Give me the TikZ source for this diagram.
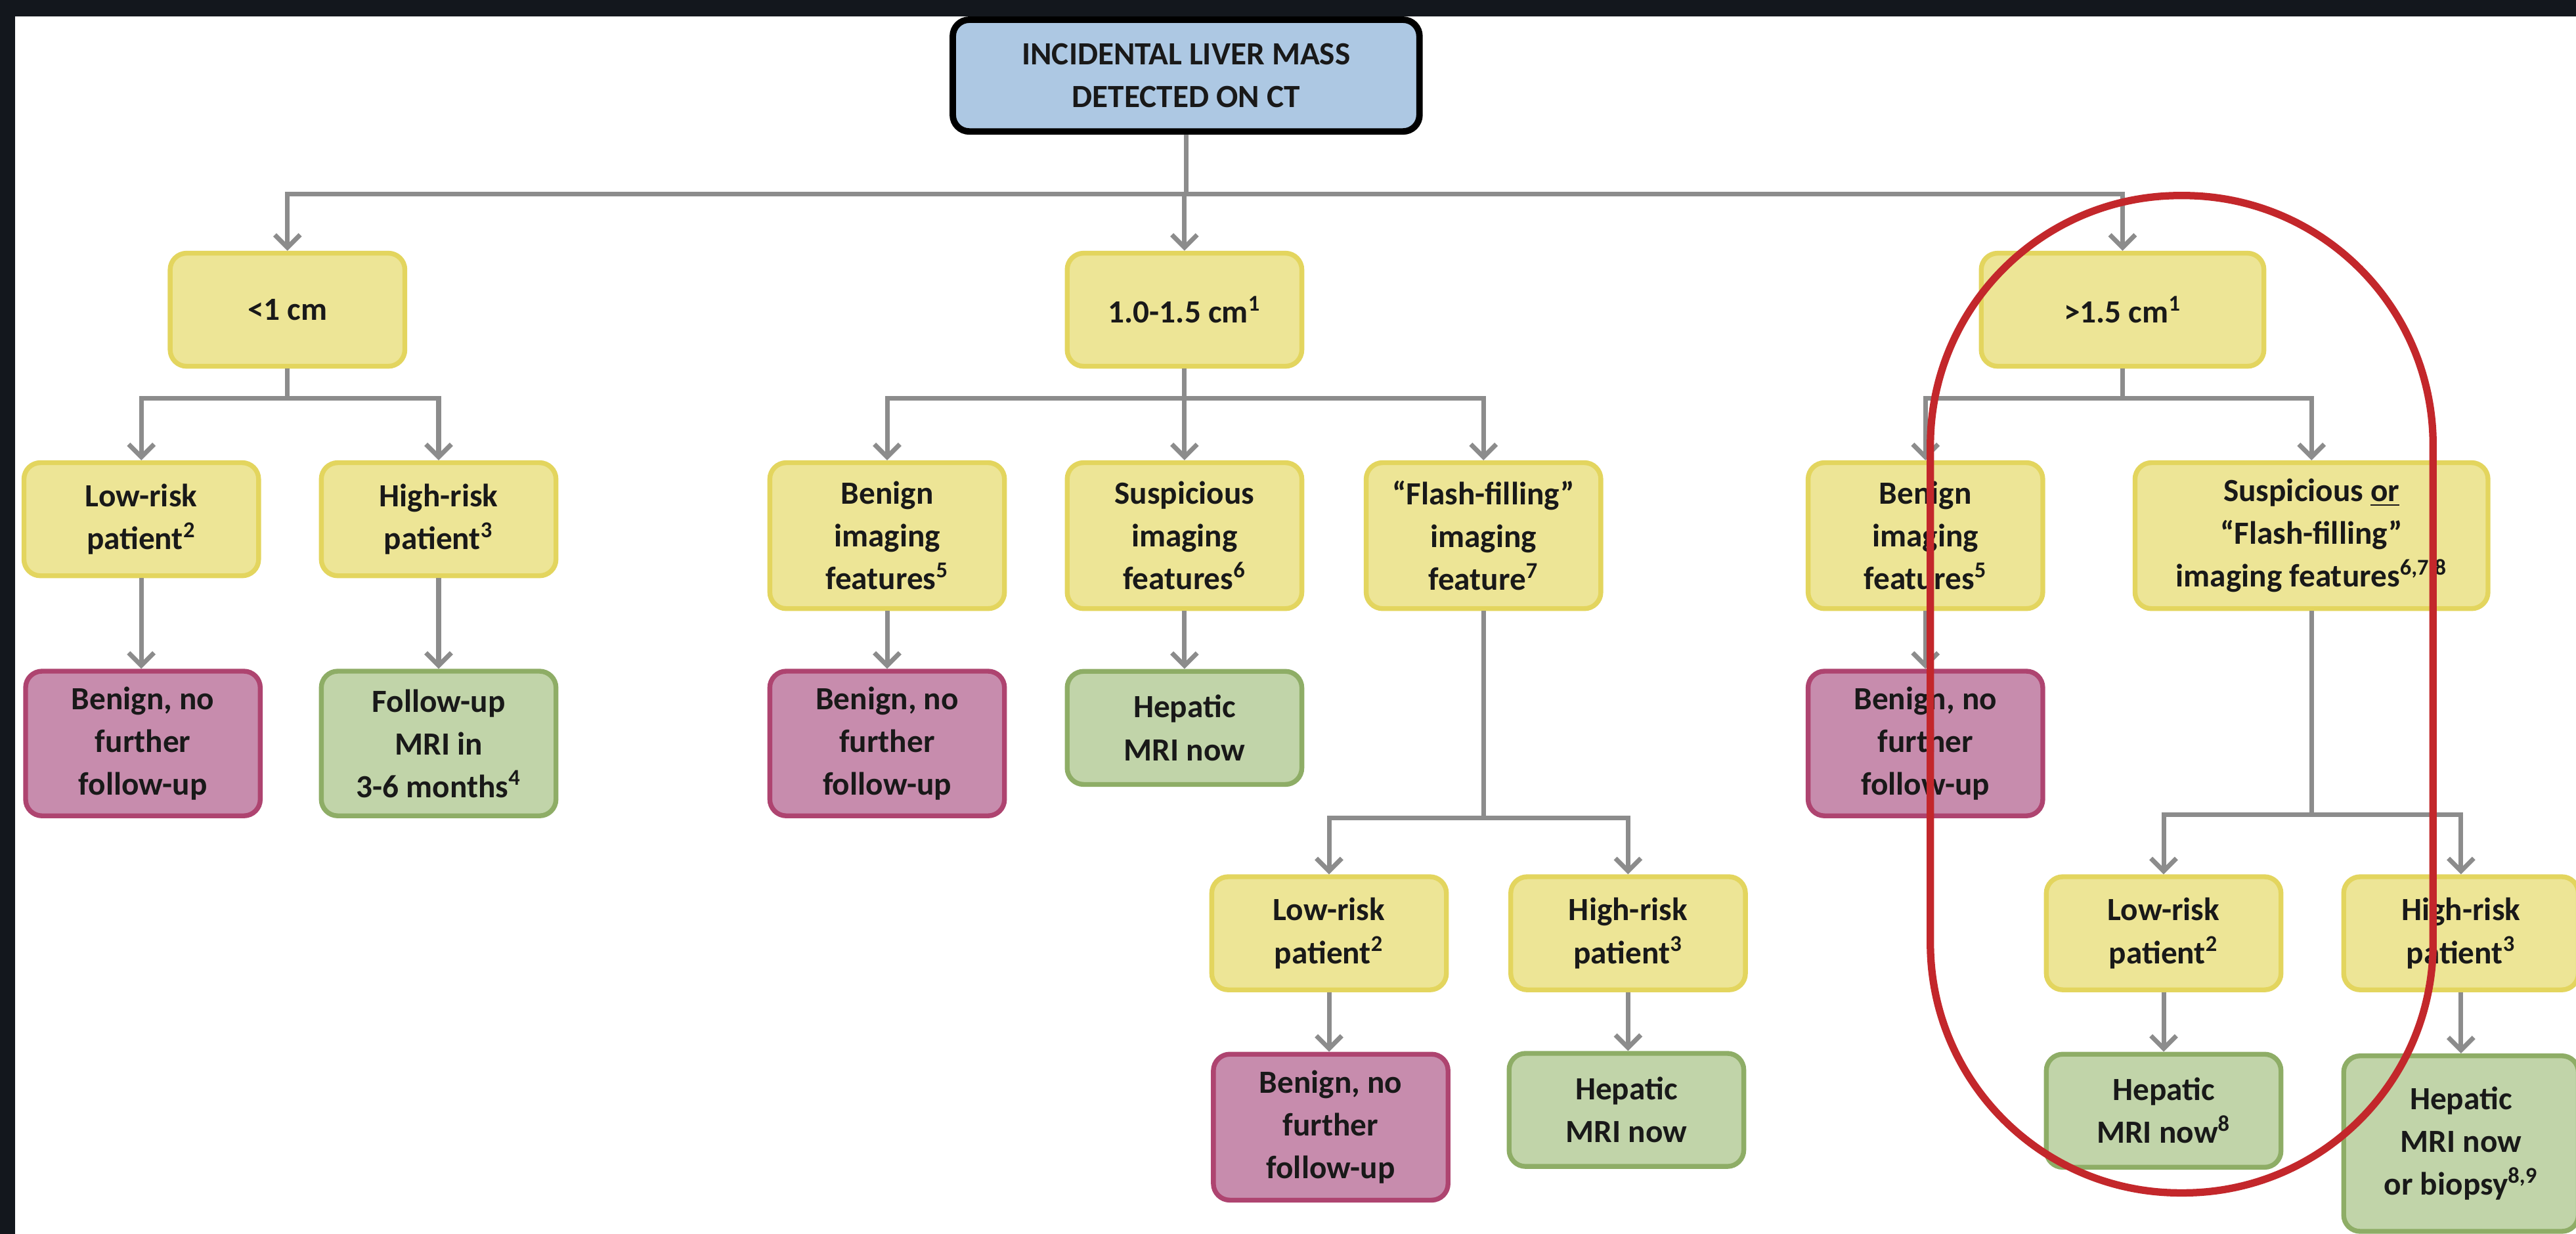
\documentclass[tikz,border=0pt]{standalone}
\usepackage{fontspec}
\setmainfont{Carlito}
\usepackage{xcolor}
\usepackage{tikz}
\usetikzlibrary{arrows.meta}

\definecolor{rootfill}{HTML}{ADC8E3}
\definecolor{yelfill}{HTML}{EDE596}
\definecolor{yelline}{HTML}{E3D55E}
\definecolor{pinkfill}{HTML}{C78CAD}
\definecolor{pinkline}{HTML}{AE4470}
\definecolor{grnfill}{HTML}{C1D4A9}
\definecolor{grnline}{HTML}{8EAD66}
\definecolor{arrgray}{HTML}{8C8C8C}
\definecolor{darkbg}{HTML}{13171D}
\definecolor{penred}{HTML}{C3272B}

\begin{document}
\begin{tikzpicture}[x=0.025cm,y=-0.025cm,>={Straight Barb[length=5.5pt,width=11pt]},
	box/.style={rectangle,rounded corners=0.25cm,line width=2.1pt,align=center,text=black!90,
		font=\fontsize{14pt}{18.5pt}\selectfont\bfseries,minimum width=3.57cm,minimum height=1.72cm,inner sep=2pt},
	ybox/.style={box,fill=yelfill,draw=yelline},
	pbox/.style={box,fill=pinkfill,draw=pinkline},
	gbox/.style={box,fill=grnfill,draw=grnline},
	arr/.style={->,draw=arrgray,line width=2pt}] % liver mass flow chart
	
	\path[use as bounding box] (0,0) rectangle (1568,751);
	\fill[white] (0,0) rectangle (1568,751);
	\fill[darkbg] (0,0) rectangle (1568,10);
	\fill[darkbg] (0,0) rectangle (9,751);
	
	\node[box,fill=rootfill,draw=black,line width=2.8pt,minimum width=7.1cm,minimum height=1.7cm] 
	(top) at (722,46) {INCIDENTAL LIVER MASS\\DETECTED ON CT};
	
	% size classes
	\node[ybox] (a1) at (175,188.5) {<1 cm};
	\node[ybox] (a2) at (721,188.5) {1.0-1.5 cm\textsuperscript{1}};
	\node[ybox,minimum width=4.3cm] (a3) at (1292,188.5) {>1.5 cm\textsuperscript{1}};
	
	% imaging features / risk
	\node[ybox] (b1) at (86,316) {Low-risk\\patient\textsuperscript{2}};
	\node[ybox] (b2) at (267,316) {High-risk\\patient\textsuperscript{3}};
	\foreach \i/\x/\name in {3/540/{Benign\\imaging\\features\textsuperscript{5}},
		4/721/{Suspicious\\imaging\\features\textsuperscript{6}},
		5/903/{“Flash-filling”\\imaging\\feature\textsuperscript{7}},
		6/1172/{Benign\\imaging\\features\textsuperscript{5}}}{
		\node[ybox,minimum height=2.22cm] (b\i) at (\x,326) {\name};
	}
	\node[ybox,minimum height=2.22cm,minimum width=5.37cm] 
	(b7) at (1407,326) {Suspicious \underline{or}\\“Flash-filling”\\imaging features\textsuperscript{6,7,8}};
	
	% outcomes
	\node[pbox,minimum height=2.2cm] (c1) at (87,452.5) {Benign, no\\further\\follow-up};
	\node[gbox,minimum height=2.2cm] (c2) at (267,452.5) {Follow-up\\MRI in\\3-6 months\textsuperscript{4}};
	\node[pbox,minimum height=2.2cm] (c3) at (540,452.5) {Benign, no\\further\\follow-up};
	\node[gbox] (c4) at (721,443) {Hepatic\\MRI now};
	\node[pbox,minimum height=2.2cm] (c5) at (1172,452.5) {Benign, no\\further\\follow-up};
	
	\foreach \i/\x/\name in {1/809/{Low-risk\\patient\textsuperscript{2}},2/991/{High-risk\\patient\textsuperscript{3}},
		3/1317/{Low-risk\\patient\textsuperscript{2}},4/1498/{High-risk\\patient\textsuperscript{3}}}{
		\node[ybox] (d\i) at (\x,568) {\name};
	}
	
	\node[pbox,minimum height=2.22cm] (e1) at (810,686) {Benign, no\\further\\follow-up};
	\node[gbox] (e2) at (990,675.5) {Hepatic\\MRI now};
	\node[gbox] (e3) at (1317,676) {Hepatic\\MRI now\textsuperscript{8}};
	\node[gbox,minimum height=2.67cm] (e4) at (1498,696) {Hepatic\\MRI now\\or biopsy\textsuperscript{8,9}};
	
	% connectors
	\foreach \j in {a1,a2,a3}{
		\draw[arr] (top.south) -- ++(0,36) -| (\j.north);}
	\foreach \j in {b1,b2}{
		\draw[arr] (a1.south) -- ++(0,18) -| (\j.north);}
	\foreach \j in {b3,b4,b5}{
		\draw[arr] (a2.south) -- ++(0,18) -| (\j.north);}
	\foreach \j in {b6,b7}{
		\draw[arr] (a3.south) -- ++(0,18) -| (\j.north);}
	\foreach \j in {d1,d2}{
		\draw[arr] (b5.south) -- ++(0,126) -| (\j.north);}
	\foreach \j in {d3,d4}{
		\draw[arr] (b7.south) -- ++(0,124) -| (\j.north);}
	\foreach \u/\v in {b1/c1,b2/c2,b3/c3,b4/c4,b6/c5,d1/e1,d2/e2,d3/e3,d4/e4}{
		\draw[arr] (\u.south) -- (\u.south |- \v.north);}
	
	% red pen mark
	\draw[penred,line width=3.2pt,rounded corners=3.8cm] (1175,119) rectangle (1481,726);
\end{tikzpicture}
\end{document}
